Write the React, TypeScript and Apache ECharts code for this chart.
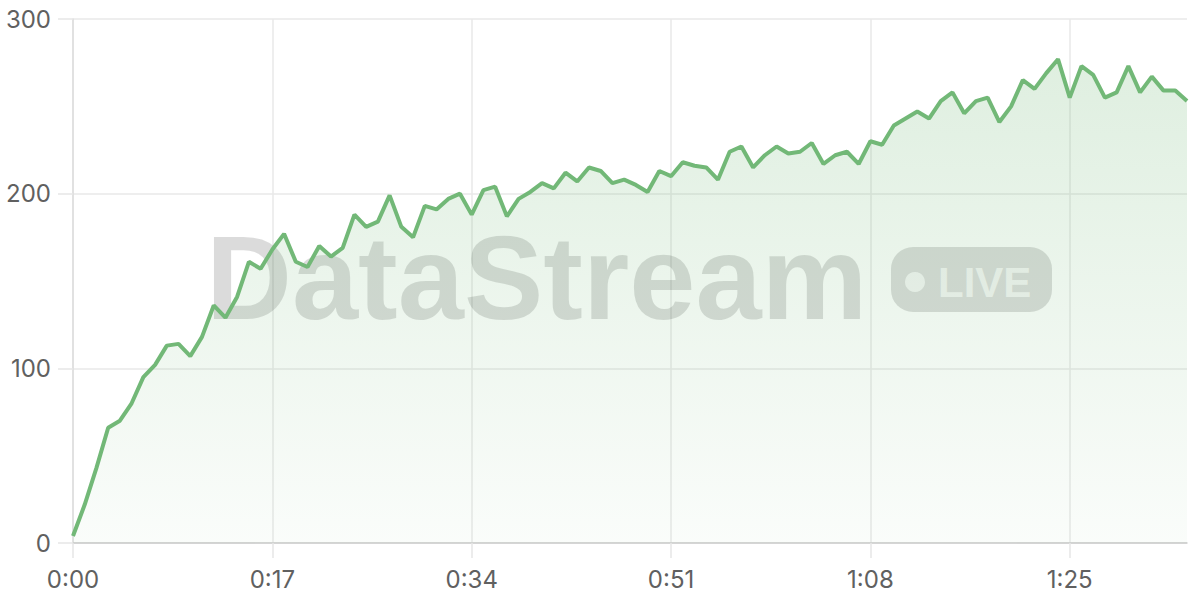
import React, { useEffect, useRef } from "react";
import * as echarts from "echarts";

const seconds: number[] = Array.from({ length: 96 }, (_, i) => i);
const timeLabels: string[] = seconds.map(
  (s) => `${Math.floor(s / 60)}:${String(s % 60).padStart(2, "0")}`
);

const values: number[] = [
  4, 22, 43, 66, 70, 80, 95, 102, 113, 114,
  107, 118, 136, 129, 141, 161, 157, 168, 177, 161,
  158, 170, 164, 169, 188, 181, 184, 199, 181, 175,
  193, 191, 197, 200, 188, 202, 204, 187, 197, 201,
  206, 203, 212, 207, 215, 213, 206, 208, 205, 201,
  213, 210, 218, 216, 215, 208, 224, 227, 215, 222,
  227, 223, 224, 229, 217, 222, 224, 217, 230, 228,
  239, 243, 247, 243, 253, 258, 246, 253, 255, 241,
  250, 265, 260, 269, 277, 255, 273, 268, 255, 258,
  273, 258, 267, 259, 259, 253,
];

const yTicks = { min: 0, max: 300, interval: 100 };
const watermarkText = "DataStream";
const badgeText = "LIVE";

export default function App() {
  const ref = useRef<HTMLDivElement>(null);

  useEffect(() => {
    document.body.style.margin = "0";
    if (!ref.current) return;
    const chart = echarts.init(ref.current, null, { renderer: "svg" });
    const green = "#72b877";
    const labelStyle = {
      color: "#606060",
      fontSize: 24,
      fontFamily: "Inter, 'Noto Sans', sans-serif",
    };
    chart.setOption({
      animation: false,
      backgroundColor: "#ffffff",
      grid: { left: 73, right: 13, top: 19, bottom: 57 },
      xAxis: {
        type: "category",
        data: timeLabels,
        boundaryGap: false,
        axisLine: { show: true, lineStyle: { color: "#cccccc", width: 1.5 } },
        axisTick: {
          show: true,
          interval: 16,
          length: 15,
          lineStyle: { color: "#e6e6e6", width: 1.5 },
        },
        splitLine: {
          show: true,
          interval: 16,
          lineStyle: { color: "#e8e8e8", width: 1.5 },
        },
        axisLabel: { ...labelStyle, interval: 16, margin: 24 },
      },
      yAxis: {
        type: "value",
        min: yTicks.min,
        max: yTicks.max,
        interval: yTicks.interval,
        axisLine: { show: true, lineStyle: { color: "#dddddd", width: 1.5 } },
        axisTick: {
          show: true,
          length: 15,
          lineStyle: { color: "#e6e6e6", width: 1.5 },
        },
        splitLine: { show: true, lineStyle: { color: "#e8e8e8", width: 1.5 } },
        axisLabel: { ...labelStyle, margin: 22 },
      },
      graphic: [
        {
          type: "text",
          z: 1,
          left: 206,
          top: 218,
          style: {
            text: watermarkText,
            font: "bold 119px 'Liberation Sans', Arial, sans-serif",
            fill: "rgba(0,0,0,0.14)",
          },
        },
        {
          type: "rect",
          z: 1,
          shape: { x: 891, y: 247, width: 161, height: 65, r: 22 },
          style: { fill: "rgba(0,0,0,0.14)" },
        },
        {
          type: "circle",
          z: 1,
          shape: { cx: 915, cy: 282, r: 10 },
          style: { fill: "rgba(255,255,255,0.72)" },
        },
        {
          type: "text",
          z: 1,
          x: 938,
          y: 282,
          style: {
            text: badgeText,
            font: "bold 42px 'Liberation Sans', Arial, sans-serif",
            fill: "rgba(255,255,255,0.72)",
            verticalAlign: "middle",
          },
        },
      ],
      series: [
        {
          type: "line",
          data: values,
          z: 3,
          showSymbol: false,
          symbol: "none",
          lineStyle: { color: green, width: 4 },
          itemStyle: { color: green },
          areaStyle: {
            color: new echarts.graphic.LinearGradient(0, 0, 0, 1, [
              { offset: 0, color: "rgba(116,185,121,0.33)" },
              { offset: 1, color: "rgba(116,185,121,0.05)" },
            ]),
          },
        },
      ],
    });
    return () => chart.dispose();
  }, []);

  return <div ref={ref} style={{ width: 1200, height: 600 }} />;
}
